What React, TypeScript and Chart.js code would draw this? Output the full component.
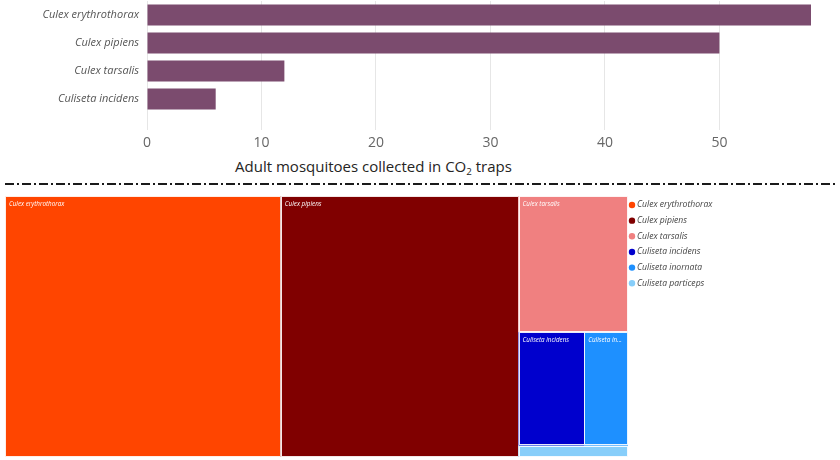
import React, { useEffect, useRef } from "react";
import { Chart, registerables } from "chart.js";

Chart.register(...registerables);

// ---- Data ----
const barCategories = ["Culex erythrothorax", "Culex pipiens", "Culex tarsalis", "Culiseta incidens"];
const barValues = [58, 50, 12, 6];
const xTickValues = [0, 10, 20, 30, 40, 50];
const xMax = 58;

const treeSpecies = [
  "Culex erythrothorax",
  "Culex pipiens",
  "Culex tarsalis",
  "Culiseta incidens",
  "Culiseta inornata",
  "Culiseta particeps",
];
const treeValues = [58, 50, 12, 6, 4, 1];
const treeColors = ["#FF4500", "#800000", "#F08080", "#0000CD", "#1E90FF", "#87CEFA"];
const barColor = "#7B4B6E";

const FONT = "'Open Sans', 'Noto Sans', sans-serif";

type Rect = { i: number; x0: number; y0: number; x1: number; y1: number };

// squarified treemap (golden ratio), laid out in a W x H box
function squarify(values: number[], W: number, H: number): Rect[] {
  const ratio = (1 + Math.sqrt(5)) / 2;
  const nodes = values.map((v, i) => ({ v, i })).sort((a, b) => b.v - a.v);
  const out: Rect[] = [];
  let x0 = 0, y0 = 0, x1 = W, y1 = H;
  let value = nodes.reduce((s, n) => s + n.v, 0);
  const n = nodes.length;
  let i0 = 0, i1 = 0;
  while (i0 < n) {
    const dx = x1 - x0, dy = y1 - y0;
    let sumValue = nodes[i1++].v;
    let minValue = sumValue, maxValue = sumValue;
    const alpha = Math.max(dy / dx, dx / dy) / (value * ratio);
    let beta = sumValue * sumValue * alpha;
    let minRatio = Math.max(maxValue / beta, beta / minValue);
    for (; i1 < n; ++i1) {
      const nv = nodes[i1].v;
      sumValue += nv;
      if (nv < minValue) minValue = nv;
      if (nv > maxValue) maxValue = nv;
      beta = sumValue * sumValue * alpha;
      const newRatio = Math.max(maxValue / beta, beta / minValue);
      if (newRatio > minRatio) { sumValue -= nv; break; }
      minRatio = newRatio;
    }
    const row = nodes.slice(i0, i1);
    if (dx < dy) {
      const yb = i1 < n ? y0 + (dy * sumValue) / value : y1;
      let x = x0;
      row.forEach((nd, k) => {
        const xr = k === row.length - 1 ? x1 : x + ((x1 - x0) * nd.v) / sumValue;
        out.push({ i: nd.i, x0: x, y0, x1: xr, y1: yb });
        x = xr;
      });
      y0 = yb;
    } else {
      const xb = i1 < n ? x0 + (dx * sumValue) / value : x1;
      let y = y0;
      row.forEach((nd, k) => {
        const yr = k === row.length - 1 ? y1 : y + ((y1 - y0) * nd.v) / sumValue;
        out.push({ i: nd.i, x0, y0: y, x1: xb, y1: yr });
        y = yr;
      });
      x0 = xb;
    }
    value -= sumValue;
    i0 = i1;
  }
  return out;
}

function fitText(ctx: CanvasRenderingContext2D, text: string, maxW: number): string {
  if (ctx.measureText(text).width <= maxW) return text;
  let t = text;
  while (t.length > 0 && ctx.measureText(t + "...").width > maxW) t = t.slice(0, -1);
  return t.length ? t.trimEnd() + "..." : "";
}

const treemapPlugin = {
  id: "treemapCells",
  afterDatasetsDraw(chart: any) {
    const { ctx, chartArea, scales } = chart;
    const xs = scales.x, ys = scales.y;
    const W = chartArea.right - chartArea.left;
    const H = chartArea.bottom - chartArea.top;
    const rects = squarify(treeValues, W, H);
    ctx.save();
    rects.forEach((r) => {
      const px0 = xs.getPixelForValue(r.x0 / W);
      const px1 = xs.getPixelForValue(r.x1 / W);
      const py0 = ys.getPixelForValue(r.y0 / H);
      const py1 = ys.getPixelForValue(r.y1 / H);
      ctx.fillStyle = treeColors[r.i];
      ctx.fillRect(px0, py0, px1 - px0, py1 - py0);
      ctx.strokeStyle = "rgba(255,255,255,0.9)";
      ctx.lineWidth = 1;
      ctx.strokeRect(Math.round(px0) + 0.5, Math.round(py0) + 0.5, Math.round(px1 - px0) - 1, Math.round(py1 - py0) - 1);
      if (py1 - py0 > 16) {
        ctx.font = `italic 6.3px ${FONT}`;
        ctx.fillStyle = "#FFFFFF";
        ctx.textBaseline = "middle";
        ctx.textAlign = "left";
        const t = fitText(ctx, treeSpecies[r.i], px1 - px0 - 8);
        ctx.fillText(t, px0 + 4, py0 + 8);
      }
    });
    // legend
    const lx = chartArea.right;
    ctx.font = `italic 8.6px ${FONT}`;
    ctx.textBaseline = "middle";
    ctx.textAlign = "left";
    treeSpecies.forEach((s, k) => {
      const y = chartArea.top + 9 + k * 15.65;
      ctx.beginPath();
      ctx.fillStyle = treeColors[k];
      ctx.arc(lx + 4, y, 3.2, 0, Math.PI * 2);
      ctx.fill();
      ctx.fillStyle = "#444444";
      ctx.fillText(s, lx + 9, y);
    });
    ctx.restore();
  },
};

export default function App() {
  const topRef = useRef<HTMLCanvasElement>(null);
  const botRef = useRef<HTMLCanvasElement>(null);

  useEffect(() => {
    const TOP_H = 155;
    const top = new Chart(topRef.current as HTMLCanvasElement, {
      type: "bar",
      data: {
        labels: barCategories,
        datasets: [
          {
            data: barValues,
            backgroundColor: barColor,
            categoryPercentage: 0.75,
            barPercentage: 1,
          },
        ],
      },
      options: {
        indexAxis: "y",
        animation: false,
        responsive: true,
        maintainAspectRatio: false,
        layout: { padding: { top: 1, right: 29, left: 0, bottom: 0 } },
        plugins: { legend: { display: false }, tooltip: { enabled: false } },
        scales: {
          x: {
            min: 0,
            max: xMax,
            afterBuildTicks: (scale: any) => {
              scale.ticks = xTickValues.map((v) => ({ value: v }));
            },
            afterFit: (scale: any) => {
              scale.height = TOP_H - 113;
            },
            grid: { color: "#E6E6E6", tickLength: 17, drawTicks: true },
            border: { display: false },
            ticks: { color: "#666666", font: { size: 14, family: FONT }, padding: 5, maxRotation: 0 },
          },
          y: {
            afterFit: (scale: any) => {
              scale.width = 147;
              scale.paddingTop = 0;
              scale.paddingBottom = 0;
            },
            grid: { display: false, drawTicks: false },
            border: { display: false },
            ticks: { color: "#555555", font: { size: 11, family: FONT, style: "italic" }, padding: 8 },
          },
        },
      },
    } as any);

    const bot = new Chart(botRef.current as HTMLCanvasElement, {
      type: "scatter",
      data: { labels: treeSpecies, datasets: [{ data: [] }] },
      options: {
        animation: false,
        responsive: true,
        maintainAspectRatio: false,
        layout: { padding: { top: 6, left: 5, right: 212, bottom: 3 } },
        plugins: { legend: { display: false }, tooltip: { enabled: false } },
        scales: {
          x: { type: "linear", min: 0, max: 1, display: false },
          y: { type: "linear", min: 0, max: 1, reverse: true, display: false },
        },
      },
      plugins: [treemapPlugin],
    } as any);

    return () => {
      top.destroy();
      bot.destroy();
    };
  }, []);

  return (
    <div style={{ position: "absolute", left: 0, top: 0, width: 840, height: 460, background: "#fff", fontFamily: FONT }}>
      <div style={{ position: "absolute", left: 0, top: 0, width: 840, height: 155 }}>
        <canvas ref={topRef} />
      </div>
      <div
        style={{
          position: "absolute",
          left: 373.5,
          top: 156,
          transform: "translateX(-50%)",
          fontSize: 15,
          lineHeight: "21px",
          color: "#252423",
          whiteSpace: "nowrap",
        }}
      >
        Adult mosquitoes collected in CO
        <sub style={{ fontSize: "0.65em", verticalAlign: "-0.3em", lineHeight: 0 }}>2</sub> traps
      </div>
      <svg style={{ position: "absolute", left: 0, top: 178 }} width={840} height={12}>
        <line x1={5} x2={836} y1={6} y2={6} stroke="#1a1a1a" strokeWidth={2.2} strokeDasharray="9 3 2 3" />
      </svg>
      <div style={{ position: "absolute", left: 0, top: 190, width: 840, height: 270 }}>
        <canvas ref={botRef} />
      </div>
    </div>
  );
}
